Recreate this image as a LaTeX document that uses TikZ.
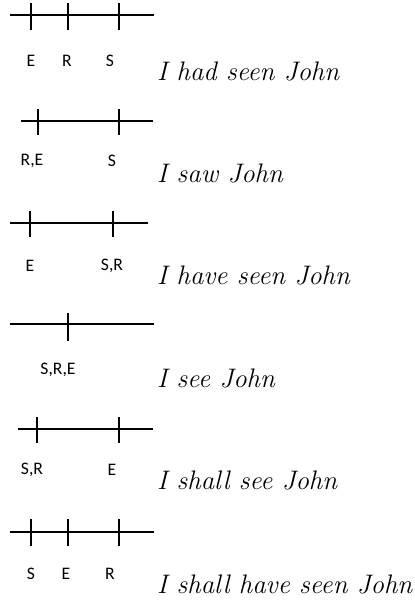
\documentclass[tikz,border=0pt]{standalone}
\usepackage{fontspec}
\newfontfamily\labelfont{Carlito}
\usetikzlibrary{positioning}
\tikzset{
  every picture/.style={line width=1.15pt},
  timeline/.style={draw=black, line width=1.15pt},
  tickline/.style={draw=black, line width=1.15pt},
  point/.style={font=\labelfont\fontsize{8.8}{10}\selectfont, inner sep=0pt, anchor=center},
  sentence/.style={font=\fontsize{13.4}{15}\selectfont\itshape, inner sep=0pt, anchor=base west},
}

\begin{document}
\begin{tikzpicture}[x=0.5pt, y=-0.5pt]
  \useasboundingbox (0,0) rectangle (414,603);

  % past perfect
  \coordinate (l1a) at (10,15);
  \coordinate (l1b) at (154,15);
  \draw[timeline] (l1a) -- (l1b);
  \draw[tickline] (31,3) -- (31,30);
  \draw[tickline] (68,3) -- (68,30);
  \draw[tickline] (119,3) -- (119,30);
  \node[point] (e1) at (31,60.5) {E};
  \node[point] (r1) at (67,60.5) {R};
  \node[point] (s1) at (110,60.5) {S};
  \node[sentence] (t1) at (156,81) {I had seen John};

  % simple past
  \coordinate (l2a) at (21,121);
  \coordinate (l2b) at (153,121);
  \draw[timeline] (l2a) -- (l2b);
  \draw[tickline] (38,109) -- (38,135);
  \draw[tickline] (119,109) -- (119,135);
  \node[point] (re2) at (32,161) {R,E};
  \node[point] (s2) at (112,161) {S};
  \node[sentence] (t2) at (156,183) {I saw John};

  % present perfect
  \coordinate (l3a) at (10,223);
  \coordinate (l3b) at (148,223);
  \draw[timeline] (l3a) -- (l3b);
  \draw[tickline] (30,211) -- (30,237);
  \draw[tickline] (113,211) -- (113,237);
  \node[point] (e3) at (30,266) {E};
  \node[point] (sr3) at (112,266) {S,R};
  \node[sentence] (t3) at (156,285) {I have seen John};

  % present
  \coordinate (l4a) at (10,324);
  \coordinate (l4b) at (154,324);
  \draw[timeline] (l4a) -- (l4b);
  \draw[tickline] (68,313) -- (68,341);
  \node[point] (sre4) at (58,370) {S,R,E};
  \node[sentence] (t4) at (156,387) {I see John};

  % simple future
  \coordinate (l5a) at (18,429);
  \coordinate (l5b) at (153,429);
  \draw[timeline] (l5a) -- (l5b);
  \draw[tickline] (37,417) -- (37,443);
  \draw[tickline] (119,417) -- (119,443);
  \node[point] (sr5) at (32,470) {S,R};
  \node[point] (e5) at (112,470) {E};
  \node[sentence] (t5) at (156,489) {I shall see John};

  % future perfect
  \coordinate (l6a) at (10,532);
  \coordinate (l6b) at (154,532);
  \draw[timeline] (l6a) -- (l6b);
  \draw[tickline] (31,519) -- (31,546);
  \draw[tickline] (68,519) -- (68,546);
  \draw[tickline] (119,519) -- (119,546);
  \node[point] (s6) at (31,574) {S};
  \node[point] (e6) at (66,574) {E};
  \node[point] (r6) at (110,574) {R};
  \node[sentence] (t6) at (156,593) {I shall have seen John};
\end{tikzpicture}
\end{document}
